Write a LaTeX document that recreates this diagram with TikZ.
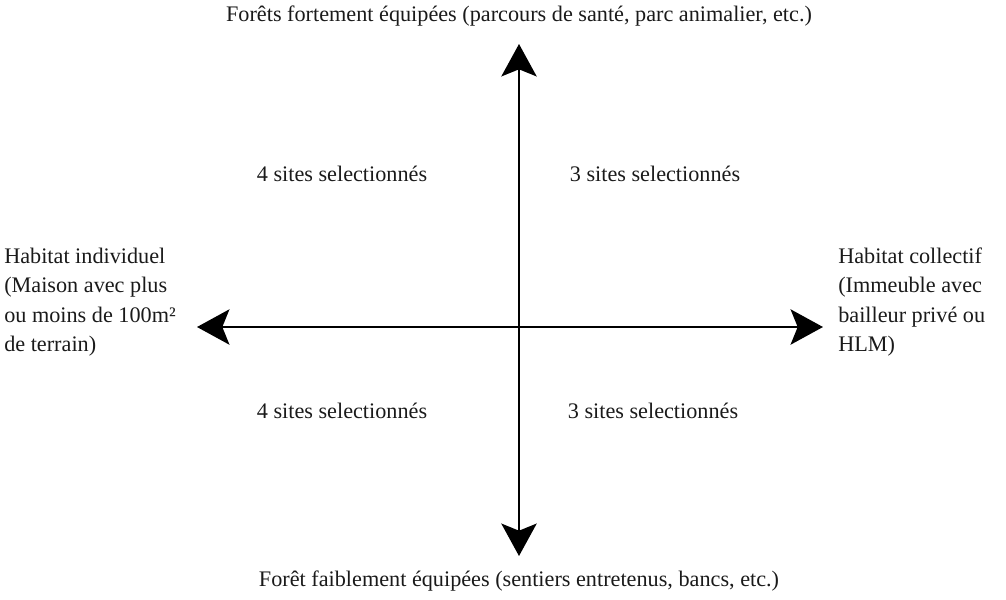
\documentclass[tikz,border=0pt]{standalone}
\usepackage{fontspec}
\setmainfont{Liberation Serif}
\usetikzlibrary{arrows.meta}
\definecolor{AxisInk}{HTML}{000000}
\definecolor{LabelInk}{HTML}{1A1A1A}

\begin{document}
\begin{tikzpicture}[x=0.025cm,y=-0.025cm,
  axis/.style={<->,line width=2.1pt,AxisInk,
    >={Stealth[length=23pt,width=25pt,inset=5pt]}},
  lbl/.style={LabelInk,inner sep=0pt,font=\fontsize{15.8}{20.9}\selectfont},
  side/.style={lbl,align=left,anchor=west}]
  \useasboundingbox (0,0) rectangle (1006,599);
  \coordinate (N) at (519,44);
  \coordinate (S) at (519,556);
  \coordinate (W) at (197,327);
  \coordinate (E) at (823,327);
  \draw[axis] (N)--(S);
  \draw[axis] (W)--(E);
  \node[lbl] (top) at (519,16) {Forêts fortement équipées (parcours de santé, parc animalier, etc.)};
  \node[lbl] (bottom) at (519,581) {Forêt faiblement équipées (sentiers entretenus, bancs, etc.)};
  \node[lbl] (nw) at (342,174) {4 sites selectionnés};
  \node[lbl] (ne) at (655,174) {3 sites selectionnés};
  \node[lbl] (sw) at (342,411) {4 sites selectionnés};
  \node[lbl] (se) at (653,411) {3 sites selectionnés};
  \node[side] (indiv) at (4,302) {Habitat individuel\\(Maison avec plus\\ou moins de 100m²\\de terrain)};
  \node[side] (coll) at (838,302) {Habitat collectif\\(Immeuble avec\\bailleur privé ou\\HLM)};
\end{tikzpicture}
\end{document}
